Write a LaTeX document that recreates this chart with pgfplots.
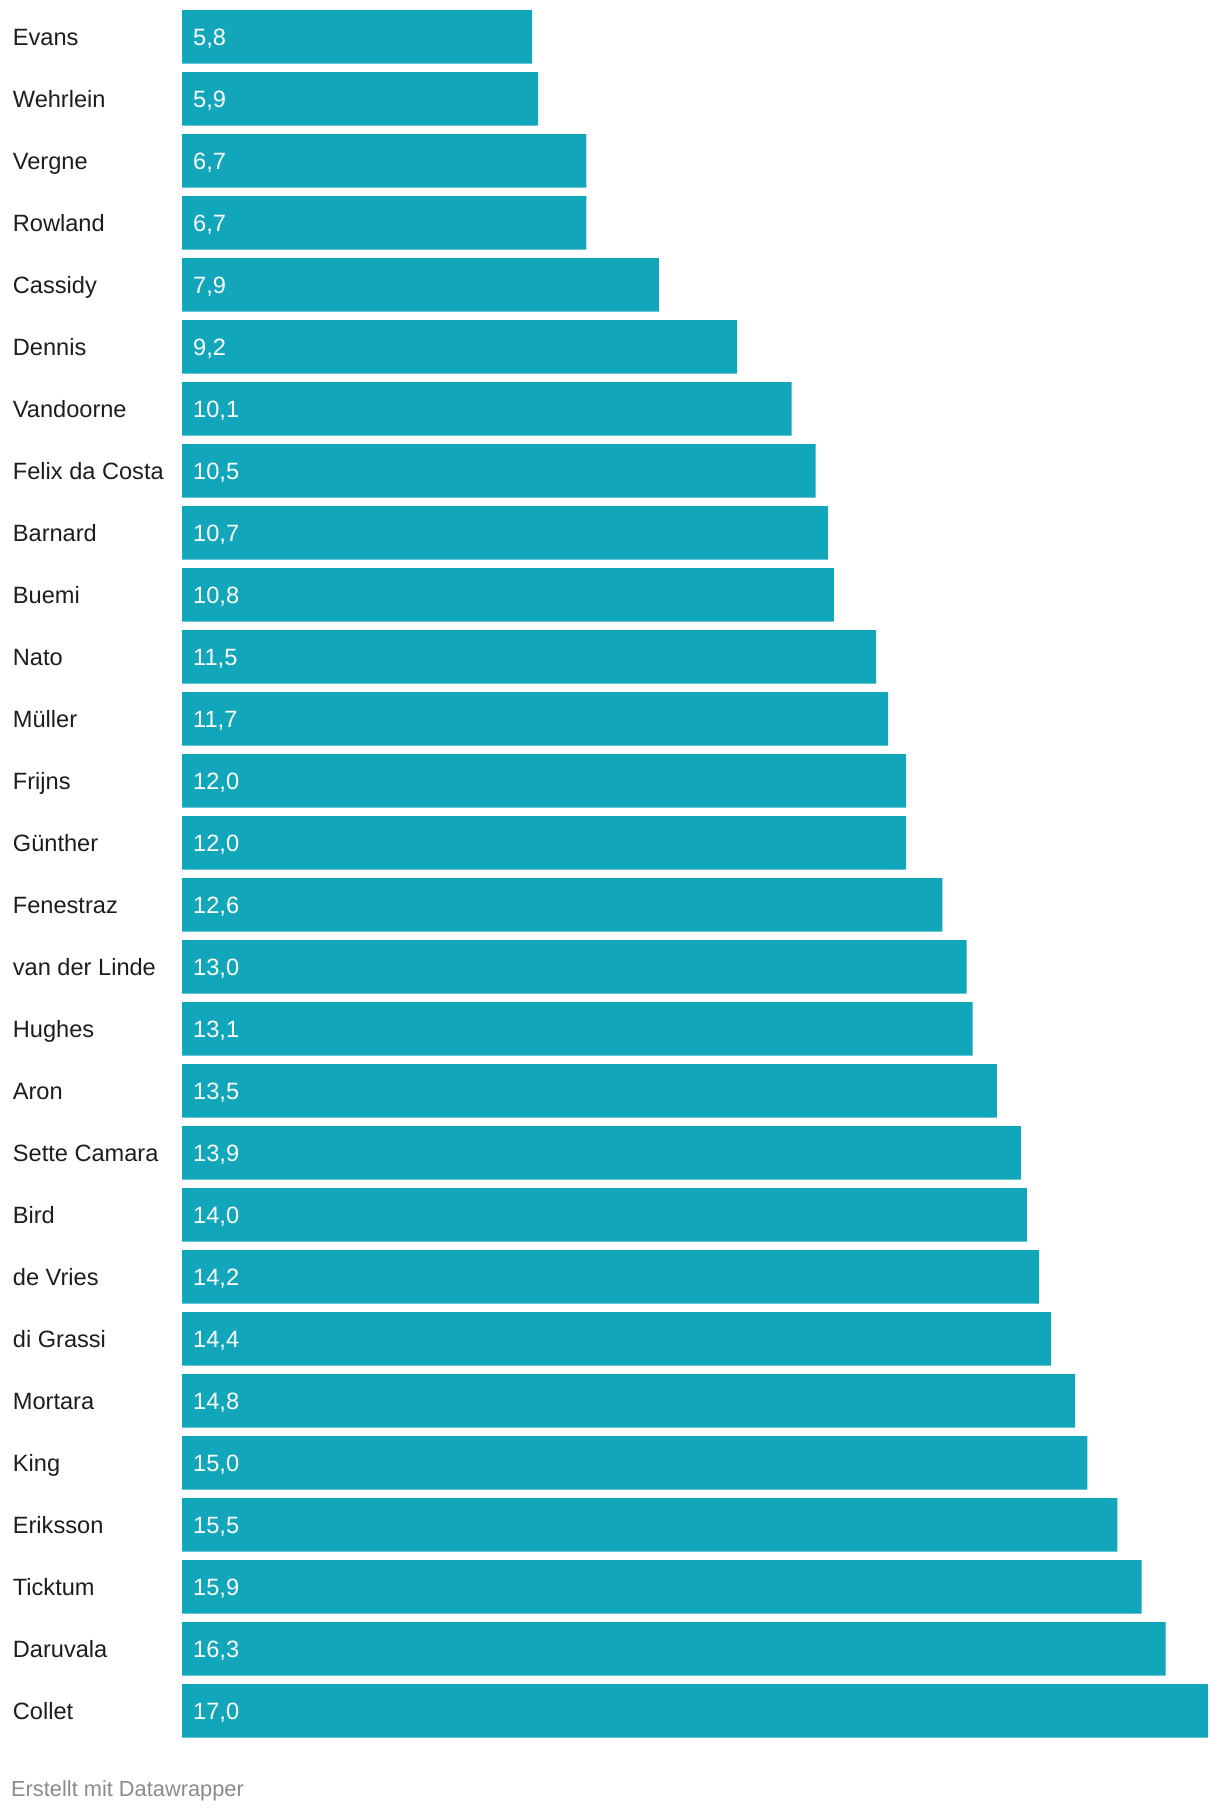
\documentclass[border=0pt]{standalone}
\usepackage{fontspec}
\setmainfont{Liberation Sans}
\usepackage{pgfplots}
\usepackage{pgfplotstable}
\pgfplotsset{compat=1.18}
\definecolor{barc}{HTML}{12A6BA}
\definecolor{txt}{HTML}{1D1D1D}
\definecolor{foot}{HTML}{8A8A8A}
\pgfplotstableread{
idx val zero
0 5.8 0
1 5.9 0
2 6.7 0
3 6.7 0
4 7.9 0
5 9.2 0
6 10.1 0
7 10.5 0
8 10.7 0
9 10.8 0
10 11.5 0
11 11.7 0
12 12.0 0
13 12.0 0
14 12.6 0
15 13.0 0
16 13.1 0
17 13.5 0
18 13.9 0
19 14.0 0
20 14.2 0
21 14.4 0
22 14.8 0
23 15.0 0
24 15.5 0
25 15.9 0
26 16.3 0
27 17.0 0
}\data
\begin{document}
\begin{tikzpicture}
\useasboundingbox (0,0) rectangle (1220pt,1814pt);
\begin{axis}[
  at={(182pt,76.3pt)}, anchor=south west,
  scale only axis, width=1026pt, height=1727.7pt,
  xmin=0, xmax=17, ymin=-0.433, ymax=27.433,
  y dir=reverse,
  axis line style={draw=none},
  major tick style={draw=none},
  xtick=\empty,
  ytick={0,...,27},
  yticklabels={Evans,Wehrlein,Vergne,Rowland,Cassidy,Dennis,Vandoorne,Felix da Costa,Barnard,Buemi,Nato,Müller,Frijns,Günther,Fenestraz,van der Linde,Hughes,Aron,Sette Camara,Bird,de Vries,di Grassi,Mortara,King,Eriksson,Ticktum,Daruvala,Collet},
  yticklabel style={font=\fontsize{23.6pt}{28pt}\selectfont, text=txt, anchor=base west, inner sep=0pt, xshift=-169.3pt, yshift=-8.6pt},
  clip=false,
]
\addplot[xbar, fill=barc, draw=none, bar width=53.7pt] table[x=val,y=idx]{\data};
\addplot[only marks, mark=none, point meta=explicit,
  nodes near coords={\pgfmathprintnumber[fixed,fixed zerofill,precision=1,use comma,assume math mode=true]{\pgfplotspointmeta}},
  every node near coord/.append style={font=\fontsize{23.6pt}{28pt}\selectfont, text=white, anchor=base west, inner sep=0pt, xshift=11pt, yshift=-8.6pt}]
  table[x=zero,y=idx,meta=val]{\data};
\end{axis}
\node[anchor=base west, inner sep=0pt, text=foot, font=\fontsize{21.8pt}{26pt}\selectfont] at (11pt,17pt) {Erstellt mit Datawrapper};
\end{tikzpicture}
\end{document}
